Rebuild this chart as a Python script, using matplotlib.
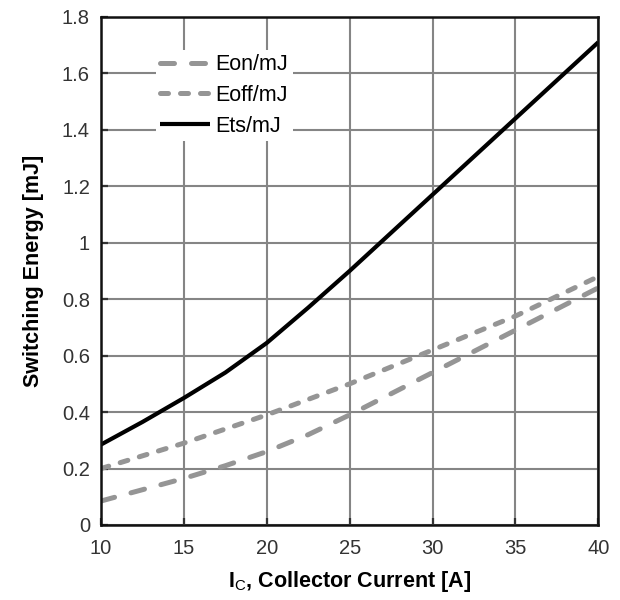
import matplotlib
matplotlib.use("Agg")
import matplotlib.pyplot as plt

current = [10, 12.5, 15, 17.5, 20, 22.5, 25, 27.5, 30, 32.5, 35, 37.5, 40]
eon = [0.085, 0.125, 0.165, 0.21, 0.26, 0.32, 0.39, 0.465, 0.54, 0.615, 0.69, 0.765, 0.84]
eoff = [0.20, 0.245, 0.29, 0.34, 0.39, 0.445, 0.50, 0.56, 0.62, 0.68, 0.74, 0.81, 0.88]
ets = [0.285, 0.365, 0.45, 0.54, 0.645, 0.77, 0.90, 1.035, 1.17, 1.305, 1.44, 1.575, 1.71]
xticks = [10, 15, 20, 25, 30, 35, 40]
yticks = [0, 0.2, 0.4, 0.6, 0.8, 1, 1.2, 1.4, 1.6, 1.8]
ytick_labels = ["0", "0.2", "0.4", "0.6", "0.8", "1", "1.2", "1.4", "1.6", "1.8"]

plt.rcParams['font.family'] = ['Liberation Sans', 'DejaVu Sans']
plt.rcParams['mathtext.fontset'] = 'custom'
plt.rcParams['mathtext.rm'] = 'Liberation Sans'
plt.rcParams['mathtext.bf'] = 'Liberation Sans:bold'

fig = plt.figure(figsize=(6.2, 6.0), dpi=100)
ax = fig.add_axes([0.163, 0.125, 0.802, 0.847])

gray = '#959595'
l1, = ax.plot(current, eon, color=gray, lw=3.6, label='Eon/mJ', dash_capstyle='round')
l1.set_dashes([2.8, 3.4])
l2, = ax.plot(current, eoff, color=gray, lw=3.6, label='Eoff/mJ', dash_capstyle='round')
l2.set_dashes([1.6, 2.4])
ax.plot(current, ets, color='black', lw=3.0, label='Ets/mJ', solid_capstyle='butt')

ax.set_xlim(10, 40)
ax.set_ylim(0, 1.8)
ax.set_xticks(xticks)
ax.set_yticks(yticks)
ax.set_yticklabels(ytick_labels)
ax.grid(True, color='#858585', lw=1.5)
ax.set_axisbelow(True)
ax.tick_params(direction='in', length=5, width=1.6, labelsize=14.5, colors='#333333')
ax.tick_params(axis='x', pad=10)
ax.tick_params(axis='y', pad=8)
for s in ax.spines.values():
    s.set_linewidth(1.8)
    s.set_color('#111111')

ax.set_xlabel(r"$\mathbf{I}_{\mathrm{C}}$, Collector Current [A]", fontsize=15.5,
              fontweight='bold', labelpad=8)
ax.set_ylabel("Switching Energy [mJ]", fontsize=15.5, fontweight='bold', labelpad=13)

leg = ax.legend(loc='upper left', bbox_to_anchor=(0.11, 0.935), borderaxespad=0,
                frameon=True, fontsize=15.5, handlelength=2.3, handletextpad=0.28,
                borderpad=0.2, labelspacing=0.45)
leg.get_frame().set_facecolor('white')
leg.get_frame().set_edgecolor('none')
leg.get_frame().set_alpha(1)

fig.savefig('out.png', dpi=100, facecolor='white')
